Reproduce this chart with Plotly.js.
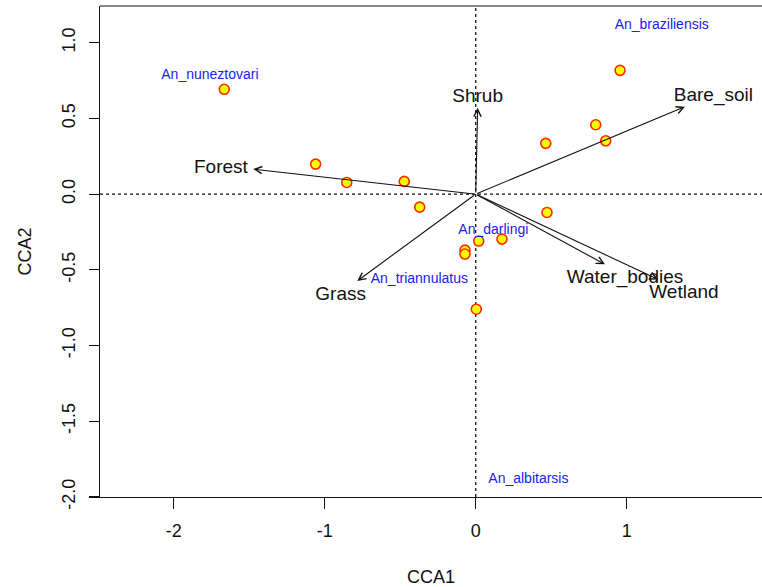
<!DOCTYPE html>
<html>
<head>
<meta charset="utf-8">
<script src="https://cdn.plot.ly/plotly-3.0.1.min.js"></script>
<style>html,body{margin:0;padding:0;background:#fff;}#chart{width:762px;height:587px;}</style>
</head>
<body>
<div id="chart"></div>
<script>
// Site scores (points)
const siteCCA1 = [-1.665, -1.060, -0.854, -0.473, -0.371, -0.071, -0.071, 0.020, 0.174, 0.464, 0.472, 0.795, 0.861, 0.956, 0.004];
const siteCCA2 = [0.692, 0.198, 0.077, 0.084, -0.086, -0.370, -0.396, -0.310, -0.297, 0.335, -0.121, 0.458, 0.352, 0.817, -0.760];

// Environmental biplot vectors
const envNames = ["Forest", "Shrub", "Bare_soil", "Water_bodies", "Wetland", "Grass"];
const envCCA1 = [-1.473, 0.013, 1.386, 0.856, 1.209, -0.784];
const envCCA2 = [0.165, 0.570, 0.577, -0.464, -0.564, -0.573];
const envLabelCCA1 = [-1.687, 0.013, 1.574, 0.989, 1.379, -0.894];
const envLabelCCA2 = [0.174, 0.639, 0.649, -0.557, -0.656, -0.667];

// Species labels
const speciesNames = ["An_nuneztovari", "An_braziliensis", "An_darlingi", "An_triannulatus", "An_albitarsis"];
const speciesCCA1 = [-1.760, 1.232, 0.117, -0.373, 0.349];
const speciesCCA2 = [0.784, 1.116, -0.242, -0.561, -1.882];

// Axis ticks
const xTicks = [-2, -1, 0, 1];
const xTickLabels = ["-2", "-1", "0", "1"];
const yTicks = [-2.0, -1.5, -1.0, -0.5, 0.0, 0.5, 1.0];
const yTickLabels = ["-2.0", "-1.5", "-1.0", "-0.5", "0.0", "0.5", "1.0"];

const FONT = "Liberation Sans, Arial, sans-serif";

const traces = [
  {
    type: "scatter", mode: "markers",
    x: siteCCA1, y: siteCCA2,
    marker: {size: 10, color: "#ffff00", line: {color: "#ff2a00", width: 1.6}},
    hoverinfo: "x+y", showlegend: false
  },
  {
    type: "scatter", mode: "text",
    x: envLabelCCA1, y: envLabelCCA2, text: envNames,
    textposition: "middle center",
    textfont: {family: FONT, size: 19, color: "#111111"},
    hoverinfo: "text", showlegend: false
  },
  {
    type: "scatter", mode: "text",
    x: speciesCCA1, y: speciesCCA2, text: speciesNames,
    textposition: "middle center",
    textfont: {family: FONT, size: 14, color: "#2020ee"},
    hoverinfo: "text", showlegend: false
  }
];

const annotations = envNames.map((n, i) => ({
  x: envCCA1[i], y: envCCA2[i], xref: "x", yref: "y",
  ax: 0, ay: 0, axref: "x", ayref: "y",
  text: "", showarrow: true,
  arrowhead: 5, arrowsize: 1.3, arrowwidth: 1.1, arrowcolor: "#111111",
  standoff: 0, startstandoff: 0
}));

const layout = {
  width: 762, height: 587,
  margin: {l: 100, r: 0, t: 6, b: 90},
  paper_bgcolor: "#ffffff", plot_bgcolor: "#ffffff",
  font: {family: FONT, size: 18, color: "#111111"},
  showlegend: false,
  xaxis: {
    range: [-2.488, 1.896], tickmode: "array", tickvals: xTicks, ticktext: xTickLabels,
    showgrid: false, zeroline: false, showline: true, linecolor: "#111111", linewidth: 1.2,
    ticks: "outside", ticklen: 11, tickwidth: 1.2, tickcolor: "#111111",
    ticklabelstandoff: 6,
    tickfont: {family: FONT, size: 18, color: "#111111"},
    title: {text: "CCA1", font: {family: FONT, size: 18, color: "#111111"}, standoff: 30}
  },
  yaxis: {
    range: [-2.0, 1.242], tickmode: "array", tickvals: yTicks, ticktext: yTickLabels,
    showgrid: false, zeroline: false, showline: true, linecolor: "#111111", linewidth: 1.2,
    ticks: "outside", ticklen: 10, tickwidth: 1.2, tickcolor: "#111111", tickangle: -90,
    ticklabelstandoff: 7,
    tickfont: {family: FONT, size: 18, color: "#111111"},
    title: {text: "CCA2", font: {family: FONT, size: 18, color: "#111111"}, standoff: 22}
  },
  shapes: [
    {type: "line", xref: "paper", yref: "paper", x0: 0, x1: 1, y0: 1, y1: 1, line: {color: "#111111", width: 1.2}},
    {type: "line", xref: "x", yref: "paper", x0: 0, x1: 0, y0: 0, y1: 1, layer: "below", line: {color: "#111111", width: 1.3, dash: "dot"}},
    {type: "line", xref: "paper", yref: "y", x0: 0, x1: 1, y0: 0, y1: 0, layer: "below", line: {color: "#111111", width: 1.3, dash: "dot"}}
  ],
  annotations: annotations
};

Plotly.newPlot("chart", traces, layout, {displayModeBar: false, staticPlot: true});
</script>
</body>
</html>
